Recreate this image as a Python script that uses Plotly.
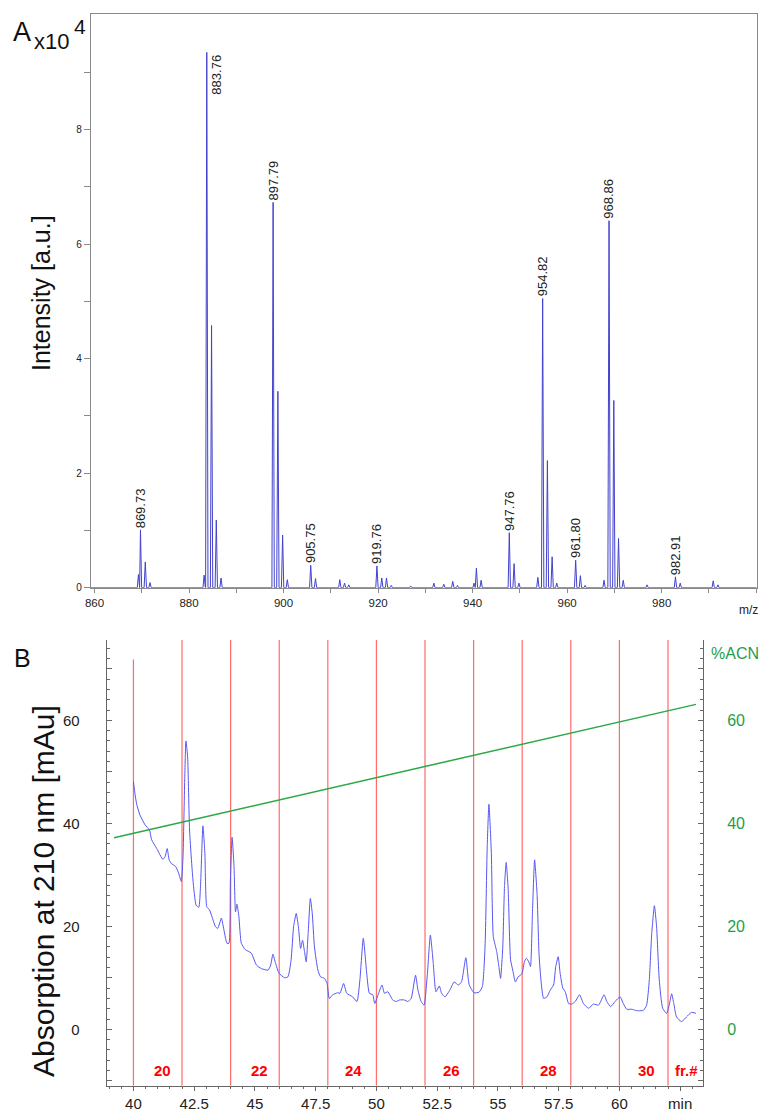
import plotly.graph_objects as go

# ---------------- Panel A data (MS spectrum) ----------------
peak_mz = [869.30, 869.73, 870.75, 871.75, 883.20, 883.76, 884.77, 885.77, 886.78,
           897.79, 898.80, 899.80, 900.80, 905.75, 906.76, 911.90, 912.90, 913.80,
           919.76, 920.78, 921.78, 922.80, 926.90, 931.80, 933.90, 935.80, 936.80,
           940.30, 940.80, 941.80, 947.76, 948.77, 949.80, 953.80, 954.82, 955.82,
           956.82, 957.80, 961.80, 962.80, 963.80, 967.80, 968.86, 969.87, 970.87,
           971.87, 976.90, 982.91, 983.92, 990.90, 991.90]
peak_intensity = [2300, 10100, 4500, 900, 2200, 93500, 45800, 11800, 1700,
                  67300, 34300, 9200, 1400, 3900, 1600, 1400, 800, 500,
                  3800, 1700, 1700, 400, 300, 800, 600, 1100, 400,
                  800, 3400, 1300, 9600, 4200, 800, 1800, 50500, 22200,
                  5400, 800, 4800, 2100, 400, 1300, 64100, 32700, 8600,
                  1300, 500, 1900, 800, 1200, 500]
label_mz = [869.73, 883.76, 897.79, 905.75, 919.76, 947.76, 954.82, 961.80, 968.86, 982.91]

mz_tickvals = [860, 870, 880, 890, 900, 910, 920, 930, 940, 950, 960, 970, 980, 990, 1000]
mz_ticktext = ["860", "", "880", "", "900", "", "920", "", "940", "", "960", "", "980", "", ""]
int_tickvals = [0, 10000, 20000, 30000, 40000, 50000, 60000, 70000, 80000, 90000]
int_ticktext = ["0", "", "2", "", "4", "", "6", "", "8", ""]

# ---------------- Panel B data (chromatogram) ----------------
time_min = [40.0, 40.07, 40.14, 40.27, 40.48, 40.66, 40.75, 40.96, 41.21, 41.30, 41.39, 41.47,
            41.56, 41.74, 41.86, 41.97, 42.04, 42.11, 42.16, 42.23, 42.31, 42.45, 42.58, 42.69,
            42.76, 42.86, 42.94, 43.02, 43.13, 43.38, 43.47, 43.62, 43.70, 43.85, 43.93, 43.99,
            44.06, 44.14, 44.20, 44.26, 44.34, 44.44, 44.60, 44.85, 45.06, 45.26, 45.54, 45.65,
            45.74, 45.85, 45.99, 46.22, 46.36, 46.49, 46.59, 46.70, 46.79, 46.88, 46.96, 47.04,
            47.11, 47.19, 47.28, 47.36, 47.45, 47.59, 47.70, 47.86, 47.97, 48.06, 48.20, 48.40,
            48.50, 48.65, 48.78, 49.02, 49.20, 49.32, 49.46, 49.60, 49.71, 49.85, 49.93, 50.09,
            50.23, 50.33, 50.47, 50.67, 50.81, 50.95, 51.15, 51.29, 51.43, 51.61, 51.71, 51.84,
            51.96, 52.10, 52.22, 52.34, 52.45, 52.59, 52.68, 52.82, 53.02, 53.20, 53.37, 53.50,
            53.68, 53.82, 54.02, 54.22, 54.36, 54.47, 54.56, 54.63, 54.73, 54.81, 54.95, 55.04,
            55.11, 55.20, 55.27, 55.34, 55.42, 55.52, 55.61, 55.72, 55.83, 55.93, 56.00, 56.09,
            56.17, 56.27, 56.34, 56.42, 56.51, 56.61, 56.69, 56.77, 56.88, 57.02, 57.15, 57.29,
            57.38, 57.48, 57.56, 57.67, 57.77, 57.91, 58.04, 58.18, 58.36, 58.52, 58.73, 58.93,
            59.14, 59.37, 59.48, 59.64, 59.82, 60.03, 60.16, 60.30, 60.51, 60.65, 60.78, 60.99,
            61.12, 61.23, 61.33, 61.44, 61.53, 61.64, 61.78, 61.94, 62.05, 62.15, 62.24, 62.35,
            62.56, 62.76, 62.97, 63.15]
absorbance = [48.1, 45.5, 43.6, 41.6, 39.7, 38.7, 36.8, 35.1, 33.0, 33.5, 35.1, 32.9,
              32.2, 31.6, 30.3, 28.7, 33.5, 48.4, 56.0, 52.9, 38.7, 29.0, 24.1, 23.7,
              27.7, 39.5, 34.2, 23.8, 23.2, 19.9, 19.6, 21.6, 19.9, 16.7, 16.7, 29.0,
              37.3, 31.6, 22.8, 24.3, 21.9, 16.7, 15.5, 14.8, 12.5, 11.8, 11.5, 12.5,
              14.6, 12.8, 10.9, 10.0, 10.2, 13.5, 19.9, 22.5, 19.9, 15.7, 17.3, 15.1,
              13.1, 18.6, 25.4, 22.5, 16.0, 11.5, 10.2, 9.9, 8.9, 6.0, 6.7, 7.1,
              7.0, 8.9, 7.0, 6.3, 5.4, 9.6, 17.7, 10.9, 7.0, 6.7, 5.0, 7.0,
              8.6, 7.0, 7.3, 5.7, 5.4, 5.7, 5.7, 5.4, 6.0, 10.5, 7.6, 5.4,
              4.7, 10.9, 18.3, 12.8, 7.3, 8.4, 7.0, 6.3, 7.6, 9.2, 8.6, 9.2,
              13.9, 8.6, 7.1, 7.2, 8.3, 16.0, 35.5, 43.7, 34.2, 18.0, 15.1, 12.2,
              9.9, 16.0, 27.7, 32.4, 27.4, 13.5, 11.5, 9.2, 10.2, 10.5, 10.9, 13.1,
              13.8, 13.1, 12.2, 22.5, 32.9, 26.4, 14.8, 9.6, 6.0, 6.3, 7.6, 8.6,
              12.2, 14.1, 10.9, 8.0, 7.3, 5.0, 4.9, 5.4, 6.7, 5.0, 4.1, 4.9,
              4.7, 6.7, 5.4, 4.4, 5.4, 6.3, 5.0, 3.9, 3.9, 3.7, 3.6, 3.7,
              4.7, 9.6, 18.6, 24.0, 19.9, 9.6, 4.1, 3.1, 4.7, 6.9, 5.0, 2.4,
              1.5, 2.4, 3.3, 3.1]
acn_time = [39.2, 63.15]
acn_percent = [37.2, 63.1]

fraction_edges = [40, 42, 44, 46, 48, 50, 52, 54, 56, 58, 60, 62]
fraction_label_time = [41.2, 45.2, 49.05, 53.1, 57.1, 61.1, 62.75]
fraction_label_text = ["20", "22", "24", "26", "28", "30", "fr.#"]

time_tickvals = [40, 42.5, 45, 47.5, 50, 52.5, 55, 57.5, 60, 62.5]
time_ticktext = ["40", "42.5", "45", "47.5", "50", "52.5", "55", "57.5", "60", "min"]
abs_tickvals = [-10, 0, 10, 20, 30, 40, 50, 60, 70]
abs_ticktext = ["", "0", "", "20", "", "40", "", "60", ""]

# ---------------- layout helpers ----------------
W, H = 772, 1119
def px(x):
    return x / W
def py(y):
    return 1 - y / H

FONT = "Liberation Sans, Arial, sans-serif"
BLUE_MS = "#4242cc"
BLUE_LC = "#5656f2"
GREEN = "#1f9e4a"
RED = "#ff0000"

# build the MS profile from the peak list (triangular peaks)
hw = 0.25
pts = [(859.2, 0.0), (1000.1, 0.0)]
for m, h in zip(peak_mz, peak_intensity):
    pts += [(m - hw, 0.0), (m, h), (m + hw, 0.0)]
pts.sort(key=lambda p: p[0])
ms_x = [p[0] for p in pts]
ms_y = [p[1] for p in pts]

fig = go.Figure()
fig.add_trace(go.Scatter(x=ms_x, y=ms_y, mode="lines", line=dict(color=BLUE_MS, width=1),
                         xaxis="x", yaxis="y", hoverinfo="skip", showlegend=False))

fig.add_trace(go.Scatter(x=acn_time, y=acn_percent, mode="lines", line=dict(color="#2aa845", width=1.5),
                         xaxis="x2", yaxis="y3", showlegend=False))
fig.add_trace(go.Scatter(x=time_min, y=absorbance, mode="lines",
                         line=dict(color=BLUE_LC, width=1, shape="spline", smoothing=0.5),
                         xaxis="x2", yaxis="y2", showlegend=False))

ymin_b, ymax_b = -10.95, 75.6
shapes = []
for i, t in enumerate(fraction_edges):
    shapes.append(dict(type="line", xref="x2", yref="y2", x0=t, x1=t, y0=ymin_b,
                       y1=(71.8 if i == 0 else ymax_b),
                       line=dict(color="rgba(255,70,70,0.8)", width=1.2), layer="below"))

annotations = []
# panel A peak labels
for m in label_mz:
    h = peak_intensity[peak_mz.index(m)]
    txt = f"{m:.2f}"
    if h + 8000 > 100000:
        annotations.append(dict(x=m, y=h, xref="x", yref="y", text=txt, textangle=-90,
                                showarrow=False, xanchor="left", yanchor="top",
                                font=dict(family=FONT, size=13, color="#222")))
    else:
        annotations.append(dict(x=m, y=h, xref="x", yref="y", text=txt, textangle=-90,
                                showarrow=False, xanchor="center", yanchor="bottom", yshift=0,
                                font=dict(family=FONT, size=13, color="#222")))

annotations += [
    dict(x=px(11), y=py(15), xref="paper", yref="paper", text="A", showarrow=False,
         xanchor="left", yanchor="top", font=dict(family=FONT, size=27, color="#111")),
    dict(x=px(32), y=py(56), xref="paper", yref="paper", text="x10", showarrow=False,
         xanchor="left", yanchor="bottom", font=dict(family=FONT, size=22, color="#111")),
    dict(x=px(72), y=py(13), xref="paper", yref="paper", text="4", showarrow=False,
         xanchor="left", yanchor="top", font=dict(family=FONT, size=21, color="#111")),
    dict(x=px(41), y=py(293), xref="paper", yref="paper", text="Intensity [a.u.]", textangle=-90,
         showarrow=False, xanchor="center", yanchor="middle", font=dict(family=FONT, size=25, color="#111")),
    dict(x=px(748), y=py(610), xref="paper", yref="paper", text="m/z", showarrow=False,
         xanchor="center", yanchor="middle", font=dict(family=FONT, size=12, color="#222")),
    dict(x=px(12), y=py(642), xref="paper", yref="paper", text="B", showarrow=False,
         xanchor="left", yanchor="top", font=dict(family=FONT, size=25, color="#111")),
    dict(x=px(43), y=py(891), xref="paper", yref="paper", text="Absorption at 210 nm [mAu]", textangle=-90,
         showarrow=False, xanchor="center", yanchor="middle", font=dict(family=FONT, size=30, color="#111")),
    dict(x=px(735), y=py(653), xref="paper", yref="paper", text="%ACN", showarrow=False,
         xanchor="center", yanchor="middle", font=dict(family=FONT, size=16, color=GREEN)),
]
for t, s in zip(fraction_label_time, fraction_label_text):
    annotations.append(dict(x=t, y=-8.0, xref="x2", yref="y2", text=f"<b>{s}</b>", showarrow=False,
                            xanchor="center", yanchor="middle",
                            font=dict(family=FONT, size=15, color=RED)))

fig.update_layout(
    width=W, height=H, margin=dict(l=0, r=0, t=0, b=0, autoexpand=False),
    paper_bgcolor="white", plot_bgcolor="white",
    font=dict(family=FONT, color="#222"),
    showlegend=False,
    xaxis=dict(domain=[px(90.7), px(756.7)], range=[859.2, 1000.1], anchor="y", automargin=False,
               showline=True, linecolor="#8a8a8a", linewidth=1, mirror=True,
               ticks="outside", ticklen=4, tickcolor="#8a8a8a",
               tickmode="array", tickvals=mz_tickvals, ticktext=mz_ticktext,
               tickfont=dict(size=11.5, color="#222"), showgrid=False, zeroline=False),
    yaxis=dict(domain=[py(587.7), py(14)], range=[0, 100200], anchor="x", automargin=False,
               showline=True, linecolor="#8a8a8a", linewidth=1, mirror=True,
               ticks="outside", ticklen=6, tickcolor="#8a8a8a",
               tickmode="array", tickvals=int_tickvals, ticktext=int_ticktext,
               tickfont=dict(size=10, color="#222"), showgrid=False, zeroline=False),
    xaxis2=dict(domain=[px(106.7), px(703)], range=[38.9, 63.44], anchor="y2", automargin=False,
                showline=True, linecolor="#666", linewidth=1,
                ticks="outside", ticklen=4, tickcolor="#666",
                tickmode="array", tickvals=time_tickvals, ticktext=time_ticktext,
                minor=dict(tickmode="linear", tick0=40, dtick=0.5, ticks="outside", ticklen=2, tickcolor="#666"),
                tickfont=dict(size=15, color="#222"), showgrid=False, zeroline=False),
    yaxis2=dict(domain=[py(1085.7), py(640)], range=[ymin_b, ymax_b], anchor="x2", automargin=False,
                showline=True, linecolor="#666", linewidth=1,
                ticks="inside", ticklen=5, tickcolor="#666",
                tickmode="array", tickvals=abs_tickvals, ticktext=abs_ticktext,
                minor=dict(tickmode="linear", tick0=0, dtick=2, ticks="inside", ticklen=3, tickcolor="#666"),
                ticklabelstandoff=23,
                tickfont=dict(size=15, color="#222"), showgrid=False, zeroline=False),
    yaxis3=dict(domain=[py(1085.7), py(640)], range=[ymin_b, ymax_b], anchor="x2", automargin=False,
                overlaying="y2", side="right",
                showline=True, linecolor="#666", linewidth=1,
                ticks="inside", ticklen=5, tickcolor="#666",
                tickmode="array", tickvals=abs_tickvals, ticktext=abs_ticktext,
                minor=dict(tickmode="linear", tick0=0, dtick=2, ticks="inside", ticklen=3, tickcolor="#666"),
                ticklabelstandoff=20,
                tickfont=dict(size=16, color=GREEN), showgrid=False, zeroline=False),
    shapes=shapes,
    annotations=annotations,
)

fig.write_html("out.html", config={"displayModeBar": False},
               post_script="document.body.style.margin='0px';document.body.style.padding='0px';"
                           "document.body.style.overflow='hidden';")
